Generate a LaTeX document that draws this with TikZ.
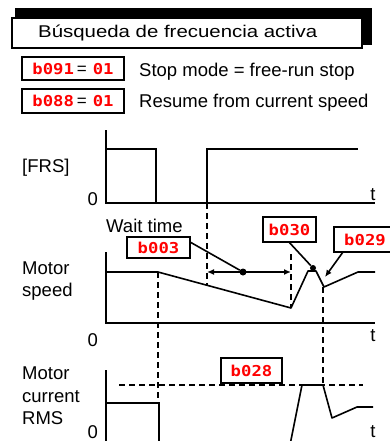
\documentclass[tikz,border=0pt]{standalone}
\usepackage{fontspec}
\setmainfont{Liberation Sans}
\newfontfamily\titlefont{Liberation Sans}[FakeStretch=1.2]
\newfontfamily\segfont{DejaVu Sans Mono Bold}[FakeStretch=1.15]
\usetikzlibrary{arrows.meta}
\newcommand{\eqsign}{\hspace{3pt}\textcolor{black}{\rmfamily\fontsize{17}{17}\selectfont=}\hspace{6pt}}
\begin{document}
\begin{tikzpicture}[x=1pt,y=-1pt,
  lbl/.style={inner sep=0pt, font=\fontsize{18.5}{20}\selectfont},
  codebox/.style={draw, line width=1.3pt, fill=white, inner sep=0pt, minimum height=24pt, text=red, font=\segfont\fontsize{15}{15}\selectfont},
  ln/.style={line width=1.6pt},
  dsh/.style={line width=1.3pt, dash pattern=on 6pt off 4pt},
  tip/.style={-{Latex[length=7pt,width=6pt]}},
  dot/.style={circle, fill=black, inner sep=0pt, minimum size=7pt}]
\useasboundingbox (0,0) rectangle (390,441);
\clip (0,0) rectangle (390,441);
% title
\fill (15,8) rectangle (372,45);
\draw[line width=1.5pt, fill=white] (12,18) rectangle (362,48);
\node[anchor=base west, inner sep=0pt, font=\titlefont\fontsize{17}{18}\selectfont] (title) at (38,38) {Búsqueda de frecuencia activa};
% header codes
\node[codebox, minimum width=102pt, minimum height=23pt] (c1) at (73,68.5) {b091\eqsign 01};
\node[codebox, minimum width=102pt, minimum height=24pt] (c2) at (73,101) {b088\eqsign 01};
\node[lbl, anchor=base west] (t1) at (139,77) {Stop mode = free-run stop};
\node[lbl, anchor=base west] (t2) at (139,107) {Resume from current speed};
% FRS panel
\node[lbl, anchor=base west] (frs) at (22,172) {[FRS]};
\node[lbl, anchor=base east] (z1) at (98,205) {0};
\node[lbl, anchor=base] (tt1) at (373,200) {t};
\draw[ln] (106,130) -- (106,203) -- (375,203);
\draw[ln] (106,149) -- (156,149) -- (156,203);
\draw[ln] (207,203) -- (207,149) -- (358,149);
\draw[dsh] (207,203) -- (207,285);
% speed panel
\node[lbl, anchor=base west] (ms1) at (22,274) {Motor};
\node[lbl, anchor=base west] (ms2) at (22,296) {speed};
\node[lbl, anchor=base west] (wt) at (106,232) {Wait time};
\node[lbl, anchor=base east] (z2) at (98,346) {0};
\node[lbl, anchor=base] (tt2) at (373,341) {t};
\draw[ln] (106,252) -- (106,323) -- (375,323);
\draw[ln, line join=round] (106,272) -- (158,272) -- (291,308) -- (308,271) -- (316,271) -- (324,287) -- (358,272) -- (375,272);
\draw[dsh] (158,272) -- (158,403);
\draw[dsh] (291,254) -- (291,308);
\draw[dsh] (323,287) -- (323,385);
\coordinate (wl) at (207,272);
\coordinate (wr) at (291,272);
\draw[ln, {Latex[length=7pt,width=6pt]}-{Latex[length=7pt,width=6pt]}] (wl) -- (wr);
\node[dot] (wdot) at (243,272) {};
\node[codebox, minimum width=63pt, minimum height=21pt] (b003) at (158.5,247.5) {b003};
\coordinate (b003out) at (190,242);
\draw[ln] (b003out) -- (wdot);
\node[codebox, minimum width=53pt, minimum height=25pt] (b030) at (289.5,229.5) {b030};
\node[dot, minimum size=6pt] (pk) at (313,268) {};
\draw[ln] (b030.south) -- (pk);
\node[codebox, minimum width=62pt, minimum height=25pt] (b029) at (365,239.5) {b029};
\coordinate (cusp) at (325,277);
\draw[ln, tip] (343,252) -- (cusp);
% current panel
\node[lbl, anchor=base west] (mc1) at (22,379) {Motor};
\node[lbl, anchor=base west] (mc2) at (22,402) {current};
\node[lbl, anchor=base west] (mc3) at (22,424) {RMS};
\node[lbl, anchor=base east] (z3) at (98,438) {0};
\node[lbl, anchor=base] (tt3) at (373,437) {t};
\draw[ln] (106,370) -- (106,450);
\draw[ln] (106,403) -- (159,403) -- (159,450);
\draw[dsh] (119,385) -- (363,385);
\draw[ln, line join=round] (289,450) -- (302,385) -- (323,385) -- (332,418) -- (357,407) -- (373,407);
\node[codebox, minimum width=61pt, minimum height=25pt] (b028) at (251.5,370.5) {b028};
\end{tikzpicture}
\end{document}
